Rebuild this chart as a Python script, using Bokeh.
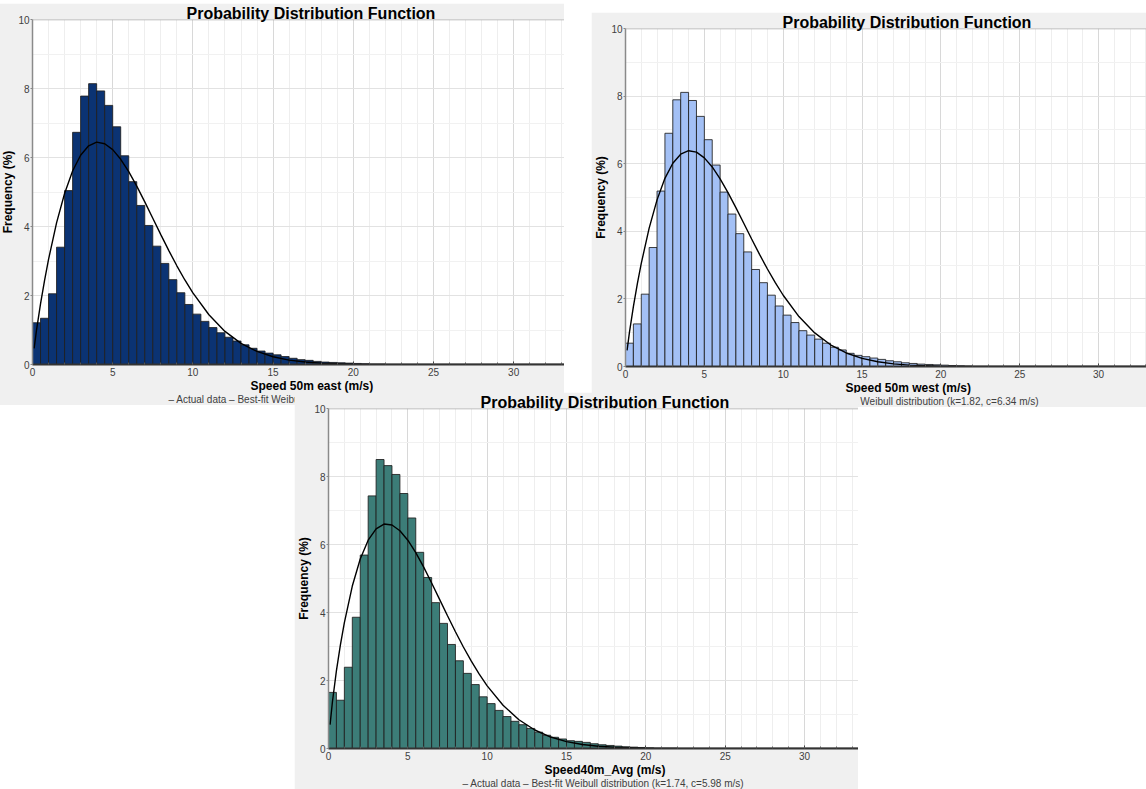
from bokeh.plotting import figure
from bokeh.models import (ColumnDataSource, Title, Range1d, SingleIntervalTicker, Span)
from bokeh.embed import file_html
from bokeh.resources import INLINE

# ---------------- data ----------------
speed_bins = [0.0, 0.5, 1.0, 1.5, 2.0, 2.5, 3.0, 3.5, 4.0, 4.5, 5.0, 5.5, 6.0, 6.5,
              7.0, 7.5, 8.0, 8.5, 9.0, 9.5, 10.0, 10.5, 11.0, 11.5, 12.0, 12.5, 13.0,
              13.5, 14.0, 14.5, 15.0, 15.5, 16.0, 16.5, 17.0, 17.5, 18.0, 18.5, 19.0,
              19.5, 20.0, 20.5, 21.0, 21.5]
bin_width = 0.5

east_freq = [1.21, 1.34, 2.05, 3.40, 5.04, 6.73, 7.78, 8.14, 7.93, 7.51,
             6.89, 6.05, 5.30, 4.61, 4.03, 3.43, 2.93, 2.46, 2.08, 1.74,
             1.46, 1.25, 1.07, 0.92, 0.79, 0.68, 0.57, 0.47, 0.39, 0.33,
             0.28, 0.23, 0.18, 0.14, 0.12, 0.09, 0.07, 0.06, 0.05, 0.04,
             0.03, 0.02, 0.01, 0.01]
west_freq = [0.69, 1.26, 2.14, 3.52, 5.19, 6.90, 7.89, 8.11, 7.87, 7.40,
             6.71, 5.96, 5.16, 4.51, 3.93, 3.39, 2.87, 2.48, 2.11, 1.79,
             1.52, 1.30, 1.06, 0.93, 0.81, 0.69, 0.57, 0.49, 0.39, 0.33,
             0.29, 0.25, 0.21, 0.17, 0.14, 0.11, 0.09, 0.07, 0.06, 0.05,
             0.04, 0.03, 0.02, 0.01]
avg_freq = [1.65, 1.42, 2.39, 3.86, 5.69, 7.43, 8.50, 8.32, 8.06, 7.50,
            6.78, 5.77, 5.03, 4.29, 3.68, 3.06, 2.58, 2.21, 1.88, 1.52,
            1.32, 1.12, 0.94, 0.80, 0.70, 0.59, 0.48, 0.39, 0.33, 0.28,
            0.23, 0.21, 0.18, 0.14, 0.11, 0.09, 0.07, 0.05, 0.04, 0.03,
            0.02, 0.01, 0.01, 0.01]

curve_speed = [0.1, 0.25, 0.5, 0.75, 1, 1.5, 2, 2.5, 3, 3.5, 4, 4.5, 5, 5.5, 6, 6.5,
               7, 7.5, 8, 8.5, 9, 9.5, 10, 11, 12, 13, 14, 15, 16, 17, 18, 20, 22,
               25, 34]
east_fit = [0.466, 0.995, 1.756, 2.433, 3.046, 4.106, 4.958, 5.609, 6.066, 6.340,
            6.445, 6.400, 6.227, 5.949, 5.588, 5.170, 4.714, 4.241, 3.765, 3.301,
            2.861, 2.450, 2.075, 1.441, 0.959, 0.614, 0.378, 0.224, 0.128, 0.071,
            0.038, 0.010, 0.002, 0.000, 0.000]
west_fit = [0.478, 1.010, 1.771, 2.443, 3.049, 4.094, 4.930, 5.568, 6.014, 6.282,
            6.384, 6.341, 6.173, 5.903, 5.553, 5.145, 4.701, 4.238, 3.773, 3.318,
            2.885, 2.479, 2.108, 1.477, 0.994, 0.643, 0.400, 0.241, 0.140, 0.078,
            0.042, 0.011, 0.003, 0.000, 0.000]
avg_fit = [0.704, 1.383, 2.288, 3.047, 3.704, 4.778, 5.575, 6.128, 6.462, 6.602,
           6.574, 6.406, 6.127, 5.761, 5.334, 4.869, 4.387, 3.904, 3.434, 2.985,
           2.568, 2.186, 1.843, 1.272, 0.846, 0.544, 0.337, 0.203, 0.118, 0.067,
           0.037, 0.010, 0.003, 0.000, 0.000]

chart_title = "Probability Distribution Function"
y_label = "Frequency (%)"
x_labels = ["Speed 50m east (m/s)", "Speed 50m west (m/s)", "Speed40m_Avg (m/s)"]
actual_label = "Actual data"
fit_labels = ["Best-fit Weibull distribution (k=1.83, c=6.30 m/s)",
              "Best-fit Weibull distribution (k=1.82, c=6.34 m/s)",
              "Best-fit Weibull distribution (k=1.74, c=5.98 m/s)"]

# ---------------- styling ----------------
FONT = "Liberation Sans"
PANEL_BG = "#f0f0f0"


def build(freq, fit, fill, xlabel, fit_label, x_end, fig_w, fig_h,
          title_off, xlabel_off, legend_off, left, top):
    p = figure(width=fig_w, height=fig_h,
               x_range=Range1d(0, x_end), y_range=Range1d(0, 10),
               output_backend="svg", toolbar_location=None,
               min_border_left=0, min_border_right=0, min_border_top=16,
               min_border_bottom=0,
               background_fill_color="white", border_fill_color=PANEL_BG,
               outline_line_color=None)

    # title (sits right on the plot's top edge, like the original)
    p.title.text = chart_title
    p.title.align = "left"
    p.title.offset = title_off
    p.title.standoff = -4
    p.title.text_font = FONT
    p.title.text_font_size = "16px"
    p.title.text_font_style = "bold"
    p.title.text_color = "black"

    # axes
    xa = p.xaxis[0]
    xa.ticker = SingleIntervalTicker(interval=5, num_minor_ticks=5)
    xa.major_tick_out = 0
    xa.major_tick_in = 3
    xa.minor_tick_out = 0
    xa.minor_tick_in = 2
    xa.major_tick_line_color = "#333333"
    xa.minor_tick_line_color = "#555555"
    xa.axis_line_color = "#333333"
    xa.axis_line_width = 2
    xa.major_label_standoff = 3
    xa.major_label_text_font = FONT
    xa.major_label_text_font_size = "10px"
    xa.major_label_text_color = "#404040"

    ya = p.yaxis[0]
    ya.ticker = SingleIntervalTicker(interval=2, num_minor_ticks=2)
    ya.major_tick_out = 2
    ya.major_tick_in = 0
    ya.minor_tick_out = 0
    ya.minor_tick_in = 0
    ya.major_tick_line_color = "#888888"
    ya.axis_line_color = "#8a8a8a"
    ya.axis_line_width = 1.5
    ya.major_label_standoff = 1
    ya.major_label_text_font = FONT
    ya.major_label_text_font_size = "10px"
    ya.major_label_text_color = "#404040"
    ya.axis_label = y_label
    ya.axis_label_standoff = 0
    ya.axis_label_text_font = FONT
    ya.axis_label_text_font_size = "12px"
    ya.axis_label_text_font_style = "bold"
    ya.axis_label_text_color = "black"

    # grids
    p.xgrid.grid_line_color = "#d8d8d8"
    p.xgrid.minor_grid_line_color = "#eeeeee"
    p.ygrid.grid_line_color = "#e2e2e2"
    p.ygrid.minor_grid_line_color = "#f1f1f1"

    # top border of the plot area
    p.add_layout(Span(location=10, dimension="width", line_color="#a8a8a8",
                      line_width=1.5))

    # bars
    src = ColumnDataSource(dict(left=speed_bins,
                                right=[b + bin_width for b in speed_bins],
                                top=freq))
    p.quad(left="left", right="right", bottom=0, top="top", source=src,
           fill_color=fill, line_color="#1e1e1e", line_width=1, line_alpha=0.85)

    # fitted curve
    p.line(curve_speed, fit, line_color="black", line_width=1.4)

    # x axis label (below the axis, placed like the original)
    p.add_layout(Title(text=xlabel, align="left", offset=xlabel_off, standoff=0,
                       vertical_align="top", text_font=FONT, text_font_size="12px",
                       text_font_style="bold", text_color="black"), "below")

    # legend line under the axis label
    p.add_layout(Title(text=f"\u2013 {actual_label} \u2013 {fit_label}",
                       align="left", offset=legend_off, standoff=-2,
                       vertical_align="top", text_font=FONT, text_font_size="10px",
                       text_font_style="normal", text_color="#404040"), "below")

    p.styles = {"position": "absolute", "left": f"{left}px", "top": f"{top}px"}
    return p


p1 = build(east_freq, east_fit, "#0b3373", x_labels[0], fit_labels[0],
           33.17, 566, 402, 154, 218, 136, -2, 3)
p2 = build(west_freq, west_fit, "#a3c0f5", x_labels[1], fit_labels[1],
           33.04, 555, 395, 157, 220, 132, 591, 12)
p3 = build(avg_freq, avg_fit, "#3c7d78", x_labels[2], fit_labels[2],
           33.40, 564, 397, 152, 216, 134, 294, 392)

# three overlapping screenshots -> three roots, the last one on top
p = [p1, p2, p3]

open("out.html", "w").write(file_html(p, INLINE))
